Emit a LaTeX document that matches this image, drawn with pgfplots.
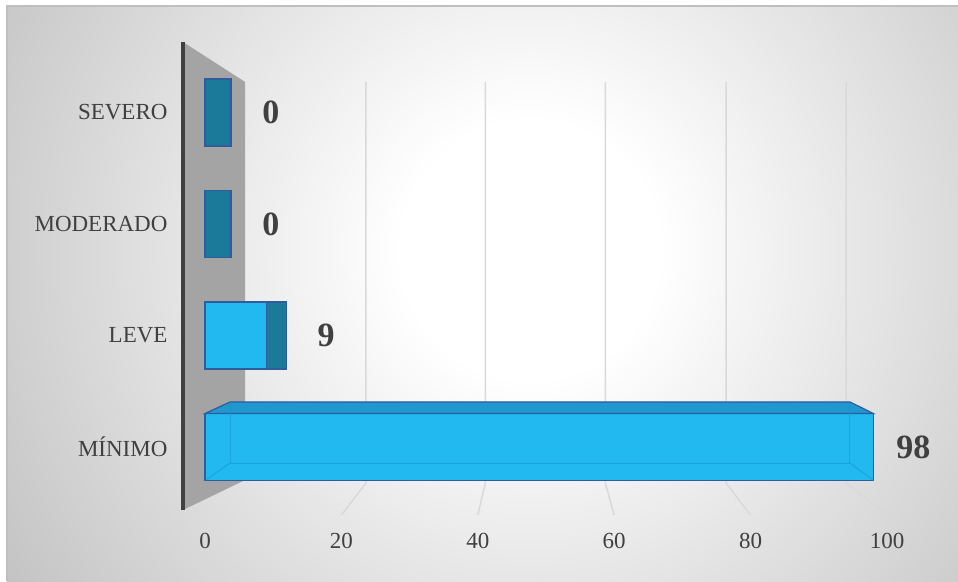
\documentclass[border=0pt]{standalone}
\usepackage{fontspec}
\setmainfont{Liberation Serif}
\usepackage{pgfplots}
\pgfplotsset{compat=1.18}
\usepackage{pgfplotstable}
\definecolor{barblue}{HTML}{22B8F0}
\definecolor{baredge}{HTML}{2E5C9E}
\definecolor{capteal}{HTML}{1B7A9A}
\definecolor{topblue}{HTML}{1F97CF}
\definecolor{wallgrey}{HTML}{A4A4A4}
\definecolor{axisdark}{HTML}{404040}
\definecolor{txtgrey}{HTML}{404040}
\definecolor{gridgrey}{HTML}{D9D9D9}
\definecolor{bgout}{HTML}{C4C4C4}
\definecolor{innerline}{HTML}{1590C8}
\pgfdeclareradialshading{bgshade}{\pgfpoint{0bp}{0bp}}{color(0bp)=(white); color(4.6bp)=(white); color(22bp)=(bgout); color(50bp)=(bgout)}

% idx: 0 = MÍNIMO, 1 = LEVE, 2 = MODERADO, 3 = SEVERO
% depth: visible side face of the 3-D bars
\pgfplotstableread{
idx v depth
0 98 0
1 9 2.9
2 0 3.8
3 0 3.8
}\datatable

\pgfplotsset{geom/.style={
  at={(183pt,71pt)}, anchor=south west,
  scale only axis, width=772.2pt, height=467.97pt,
  xmin=-3.23, xmax=110, ymin=-0.565, ymax=3.632,
  clip=false,
}}

\begin{document}
\begin{tikzpicture}
\path[use as bounding box] (0pt,0pt) rectangle (958pt,581pt);
\fill[white] (0pt,0pt) rectangle (958pt,581pt);
\begin{scope}
\clip (7pt,0pt) rectangle (958pt,575pt);
\shade[shading=bgshade] (-170pt,-369pt) rectangle (1230pt,1031pt);
\end{scope}
\draw[color=black!25, line width=1.2pt] (7pt,0pt) -- (7pt,575pt) -- (958pt,575pt);

% background axis: tick labels, back wall, grid lines
\begin{axis}[
  geom,
  axis line style={draw=none},
  tick style={draw=none},
  xtick={0,20,...,100},
  ytick={0,1,2,3},
  yticklabels={MÍNIMO,LEVE,MODERADO,SEVERO},
  ticklabel style={font=\fontsize{23}{23}\selectfont, text=txtgrey},
  /pgf/number format/assume math mode=true,
  xticklabel style={yshift=-20pt},
  yticklabel style={xshift=-12pt},
]
\fill[wallgrey] (axis cs:-3.23,3.632) -- (axis cs:5.87,3.274) -- (axis cs:5.87,-0.296) -- (axis cs:-3.23,-0.565) -- cycle;
\draw[gridgrey, line width=1.5pt] (axis cs:23.6,3.274) -- (axis cs:23.6,-0.323) -- (axis cs:20,-0.61);
\draw[gridgrey, line width=1.5pt] (axis cs:41.1,3.274) -- (axis cs:41.1,-0.323) -- (axis cs:40,-0.61);
\draw[gridgrey, line width=1.5pt] (axis cs:58.7,3.274) -- (axis cs:58.7,-0.323) -- (axis cs:60,-0.61);
\draw[gridgrey, line width=1.5pt] (axis cs:76.4,3.274) -- (axis cs:76.4,-0.323) -- (axis cs:80,-0.61);
\draw[gridgrey, line width=1.5pt] (axis cs:94.0,3.274) -- (axis cs:94.0,-0.323) -- (axis cs:100,-0.61);
\draw[axisdark, line width=4pt] (axis cs:-3.23,-0.565) -- (axis cs:-3.23,3.632);
\end{axis}

% bars
\begin{axis}[
  geom,
  hide axis,
  xbar, bar width=67pt, bar shift=0pt,
  /pgf/number format/assume math mode=true,
]
% side faces (visible depth beyond the front face)
\addplot[fill=capteal, draw=baredge, line width=1.2pt]
  table[x expr=\thisrow{v}+\thisrow{depth}, y=idx] {\datatable};
% front faces with value labels
\addplot[fill=barblue, draw=baredge, line width=1.2pt,
  nodes near coords, point meta=explicit,
  visualization depends on={\thisrow{depth} \as \dep},
  nodes near coords style={font=\bfseries\fontsize{34}{34}\selectfont, text=txtgrey, anchor=center, xshift={6.82*\dep pt + 40pt}}]
  table[x=v, y=idx, meta=v] {\datatable};
% top face and inner edges of the large 3-D bar
\fill[topblue, draw=baredge, line width=1.2pt] (axis cs:0,0.3004) -- (axis cs:3.67,0.404) -- (axis cs:94.57,0.404) -- (axis cs:98,0.3004) -- cycle;
\draw[innerline, line width=1pt, opacity=0.5] (axis cs:3.67,0.404) -- (axis cs:3.67,-0.1435) -- (axis cs:94.57,-0.1435) -- (axis cs:94.57,0.404);
\draw[innerline, line width=1pt, opacity=0.5] (axis cs:0,-0.3004) -- (axis cs:3.67,-0.1435);
\draw[innerline, line width=1pt, opacity=0.5] (axis cs:98,-0.3004) -- (axis cs:94.57,-0.1435);
\end{axis}
\end{tikzpicture}
\end{document}
